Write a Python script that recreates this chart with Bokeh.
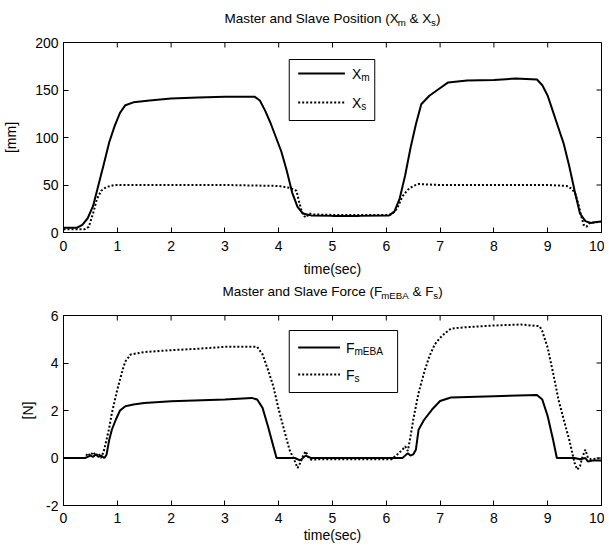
from bokeh.plotting import figure
from bokeh.models import Range1d, FixedTicker, BoxAnnotation, Label
from bokeh.layouts import column
from bokeh.embed import file_html
from bokeh.resources import INLINE

# ---------------- data ----------------
t_xm = [0, 0.25, 0.35, 0.45, 0.55, 0.65, 0.75, 0.85, 0.95, 1.05,
        1.15, 1.3, 1.6, 2.0, 2.5, 3.0, 3.55, 3.65, 3.75, 3.85,
        3.95, 4.05, 4.15, 4.25, 4.35, 4.45, 4.6, 5.0, 5.5, 6.05,
        6.15, 6.25, 6.35, 6.45, 6.55, 6.65, 6.8, 6.95, 7.15, 7.5,
        8.0, 8.4, 8.8, 8.9, 9.0, 9.1, 9.2, 9.3, 9.4, 9.5,
        9.6, 9.7, 9.8, 9.9, 10]
xm = [5, 5, 8, 15, 28, 50, 72, 95, 112, 126,
      134, 137, 139, 141, 142, 143, 143, 139, 128, 115,
      100, 85, 65, 42, 27, 20, 18, 17.5, 17.5, 18,
      22, 36, 60, 89, 114, 135, 144, 150, 158, 160,
      160.5, 162, 161, 155, 144, 127, 110, 93, 70, 44,
      20, 12, 10, 11, 11.5]

t_xs = [0, 0.4, 0.47, 0.55, 0.62, 0.7, 0.8, 0.95, 1.2, 2.0,
        3.0, 4.0, 4.2, 4.33, 4.38, 4.43, 4.48, 4.52, 4.56, 4.65,
        5.0, 6.0, 6.1, 6.2, 6.3, 6.4, 6.5, 6.6, 7.0, 8.0,
        9.0, 9.35, 9.45, 9.52, 9.57, 9.62, 9.67, 9.72, 9.78, 9.85,
        10]
xs = [3.5, 3.5, 6, 20, 35, 44, 48, 50, 50, 50,
      50, 49, 47, 44, 32, 22, 17, 16, 20, 19,
      18.5, 18.5, 19, 25, 38, 45, 49, 51, 50, 50,
      50, 49, 46, 40, 30, 18, 8, 6, 10, 10.5,
      11.5]

t_fm = [0, 0.4, 0.45, 0.5, 0.55, 0.6, 0.65, 0.7, 0.76, 0.8,
        0.85, 0.9, 0.97, 1.05, 1.15, 1.3, 1.5, 2.0, 3.0, 3.5,
        3.6, 3.7, 3.8, 3.9, 3.96, 4.3, 4.4, 4.5, 4.6, 6.3,
        6.35, 6.4, 6.45, 6.5, 6.55, 6.6, 6.7, 6.85, 7.0, 7.2,
        8.0, 8.8, 8.9, 9.0, 9.1, 9.17, 9.5, 9.6, 9.7, 9.75,
        9.85, 10]
fm = [0, 0, 0.05, 0.1, 0.05, 0.15, 0.05, 0.1, 0, 0.14,
      0.77, 1.2, 1.6, 2.0, 2.18, 2.25, 2.32, 2.39, 2.46, 2.53,
      2.46, 2.11, 1.34, 0.5, 0, 0, -0.1, 0.1, 0, 0,
      0.1, 0.2, 0.1, 0.15, 0.35, 1.19, 1.6, 2.04, 2.4, 2.55,
      2.6, 2.65, 2.46, 1.76, 0.77, 0, 0, -0.05, 0, -0.15,
      -0.1, -0.1]

t_fs = [0, 0.4, 0.45, 0.5, 0.55, 0.6, 0.65, 0.7, 0.75, 0.8,
        0.85, 0.9, 0.95, 1.0, 1.05, 1.1, 1.15, 1.25, 1.5, 2.0,
        2.5, 3.0, 3.6, 3.7, 3.8, 3.9, 4.0, 4.1, 4.2, 4.3,
        4.35, 4.4, 4.45, 4.5, 4.55, 4.6, 4.8, 6.1, 6.2, 6.3,
        6.35, 6.4, 6.45, 6.5, 6.55, 6.6, 6.7, 6.8, 6.9, 7.0,
        7.1, 7.2, 7.5, 8.0, 8.5, 8.85, 8.9, 9.0, 9.1, 9.2,
        9.3, 9.4, 9.5, 9.55, 9.6, 9.65, 9.7, 9.75, 9.8, 10]
fs = [0, 0, 0.2, 0.1, 0.25, 0.1, 0.2, 0, 0.3, 0.77,
      1.27, 1.9, 2.39, 2.88, 3.3, 3.72, 4.07, 4.36, 4.46, 4.54,
      4.6, 4.68, 4.68, 4.36, 3.72, 3.02, 2.04, 1.19, 0.35, -0.14,
      -0.42, -0.21, 0.07, 0.28, 0.05, -0.07, -0.05, -0.05, 0.14, 0.35,
      0.49, 0.3, 0.91, 1.6, 2.18, 2.74, 3.58, 4.28, 4.78, 5.06,
      5.27, 5.45, 5.51, 5.58, 5.62, 5.55, 5.34, 4.64, 3.58, 2.46,
      1.6, 0.77, -0.21, -0.49, -0.35, 0.07, 0.35, 0, -0.05, 0]

x_ticks = [0, 1, 2, 3, 4, 5, 6, 7, 8, 9, 10]
pos_ticks = [0, 50, 100, 150, 200]
force_ticks = [-2, 0, 2, 4, 6]
force_tick_labels = {-2: "-2", 0: "0", 2: "2", 4: "4", 6: "6"}

# ---------------- layout constants (page pixels) ----------------
FONT = "Liberation Sans"
PAGE = 0
FL, FR = 60, 601
FW = FR - FL
FH = 190
FIG_W = 604
BL = FL - PAGE
BR = FIG_W - (FR - PAGE)
T1_TOP, T1_H = 0, 30
P1_TOP, P1_H, FRAME1_TOP = 30, 250, 42
T2_TOP, T2_H = 280, 22
P2_TOP, P2_H, FRAME2_TOP = 302, 244, 315

WID = {' ': 278, 'M': 833, 'a': 556, 's': 500, 't': 278, 'e': 556, 'r': 333,
       'n': 556, 'd': 556, 'S': 667, 'l': 222, 'v': 500, 'P': 667, 'o': 556,
       'i': 222, '(': 333, ')': 333, 'X': 667, '&': 667, 'F': 611, 'c': 500,
       'm': 833, 'E': 667, 'B': 667, 'A': 667}


def tw(s, size):
    return sum(WID.get(c, 556) for c in s) * size / 1000.0


def rich(p, conv, segs, sx, sy, size, center=True):
    sub = size * 0.72
    total = sum(tw(t, sub if s else size) for t, s in segs)
    x = sx - total / 2.0 if center else sx
    for t, s in segs:
        f = sub if s else size
        lead = len(t) - len(t.lstrip(' '))
        body = t.strip(' ')
        yy = sy + (size * 0.32 if s else 0)
        xd, yd = conv(x + tw(' ' * lead, f), yy)
        p.add_layout(Label(x=xd, y=yd, text=body, text_font=FONT,
                           text_font_size=f"{f:.1f}px", text_color="black",
                           text_baseline="middle", text_align="left", level="overlay"))
        x += tw(t, f)


def title_fig(top, height, segs, cy):
    t = figure(width=FIG_W, height=height, x_range=Range1d(0, 10),
               y_range=Range1d(0, height), output_backend="svg",
               toolbar_location=None, x_axis_type=None, y_axis_type=None,
               min_border_left=BL, min_border_right=BR,
               min_border_top=0, min_border_bottom=0,
               outline_line_color=None, background_fill_color="white",
               border_fill_color="white")
    t.xgrid.grid_line_color = None
    t.ygrid.grid_line_color = None

    def conv(sx, sy):
        return ((sx - FL) / FW * 10.0, height - (sy - top))
    rich(t, conv, segs, (FL + FR) / 2.0, cy, 13.5)
    return t


def make_fig(ymin, ymax, yticks, ylabel, fig_top, frame_top, height,
             ylab_standoff, xtick_standoff, xlab_standoff):
    p = figure(width=FIG_W, height=height,
               x_range=Range1d(0, 10), y_range=Range1d(ymin, ymax),
               output_backend="svg", toolbar_location=None,
               min_border_left=BL, min_border_right=BR,
               min_border_top=frame_top - fig_top,
               min_border_bottom=height - (frame_top - fig_top) - FH,
               background_fill_color="white", border_fill_color="white")
    p.xgrid.grid_line_color = None
    p.ygrid.grid_line_color = None
    p.outline_line_color = "black"
    p.outline_line_alpha = 1
    p.outline_line_width = 1
    for ax, ticks in ((p.xaxis[0], x_ticks), (p.yaxis[0], yticks)):
        ax.ticker = FixedTicker(ticks=ticks)
        ax.major_tick_in = 5
        ax.major_tick_out = 0
        ax.minor_tick_line_color = None
        ax.axis_line_color = "black"
        ax.major_tick_line_color = "black"
        ax.major_label_text_font = FONT
        ax.major_label_text_font_size = "14px"
        ax.major_label_text_color = "black"
        ax.axis_label_text_font = FONT
        ax.axis_label_text_font_size = "14px"
        ax.axis_label_text_font_style = "normal"
        ax.axis_label_text_color = "black"
    p.xaxis[0].axis_label = "time(sec)"
    p.xaxis[0].major_label_standoff = xtick_standoff
    p.xaxis[0].axis_label_standoff = xlab_standoff
    p.yaxis[0].axis_label = ylabel
    p.yaxis[0].major_label_standoff = 5
    p.yaxis[0].axis_label_standoff = ylab_standoff
    # inward ticks on the top and right edges of the box
    tick_dy = 5.0 / FH * (ymax - ymin)
    tick_dx = 5.0 / FW * 10.0
    p.segment(x0=x_ticks, x1=x_ticks, y0=[ymax] * len(x_ticks),
              y1=[ymax - tick_dy] * len(x_ticks), line_color="black", line_width=1)
    p.segment(x0=[10] * len(yticks), x1=[10 - tick_dx] * len(yticks),
              y0=yticks, y1=yticks, line_color="black", line_width=1)
    return p


def legend(p, conv, box, entries):
    l, r, t, b = box
    x0, y0 = conv(l, b)
    x1, y1 = conv(r, t)
    p.add_layout(BoxAnnotation(left=x0, right=x1, bottom=y0, top=y1,
                               fill_color="white", fill_alpha=1,
                               line_color="black", line_width=1, line_alpha=1,
                               level="annotation"))
    for (lx0, lx1, ly, dash, tx, segs) in entries:
        a0, b0 = conv(lx0, ly)
        a1, b1 = conv(lx1, ly)
        rr = p.line([a0, a1], [b0, b1], line_color="black", line_width=2,
                    line_dash=dash)
        rr.level = "overlay"
        rich(p, conv, segs, tx, ly, 14, center=False)


# ---------------- top plot ----------------
t1 = title_fig(T1_TOP, T1_H, [("Master and Slave Position (X", False), ("m", True),
                              (" & X", False), ("s", True), (")", False)], 18)
p1 = make_fig(0, 200, pos_ticks, "[mm]", P1_TOP, FRAME1_TOP, P1_H, 13, 8, 7)


def conv1(sx, sy):
    return ((sx - FL) / FW * 10.0, (FRAME1_TOP + FH - sy) / FH * 200.0)


p1.line(t_xm, xm, line_color="black", line_width=2)
p1.line(t_xs, xs, line_color="black", line_width=2, line_dash="2 2")
legend(p1, conv1, (287, 373, 59, 120),
       [(296, 343, 73, "solid", 350, [("X", False), ("m", True)]),
        (296, 343, 102, "2 2", 350, [("X", False), ("s", True)])])

# ---------------- bottom plot ----------------
t2 = title_fig(T2_TOP, T2_H, [("Master and Slave Force (F", False), ("mEBA", True),
                              (" & F", False), ("s", True), (")", False)], 291)
p2 = make_fig(-2, 6, force_ticks, "[N]", P2_TOP, FRAME2_TOP, P2_H, 7, 7, 1)
p2.yaxis[0].major_label_overrides = force_tick_labels


def conv2(sx, sy):
    return ((sx - FL) / FW * 10.0, -2 + (FRAME2_TOP + FH - sy) / FH * 8.0)


p2.line(t_fm, fm, line_color="black", line_width=2)
p2.line(t_fs, fs, line_color="black", line_width=2, line_dash="2 2")
legend(p2, conv2, (287, 396, 330, 392),
       [(296, 338, 347, "solid", 344, [("F", False), ("mEBA", True)]),
        (296, 338, 374, "2 2", 344, [("F", False), ("s", True)])])

layout = column(t1, p1, t2, p2, spacing=0)
open("out.html", "w").write(file_html(layout, INLINE))
